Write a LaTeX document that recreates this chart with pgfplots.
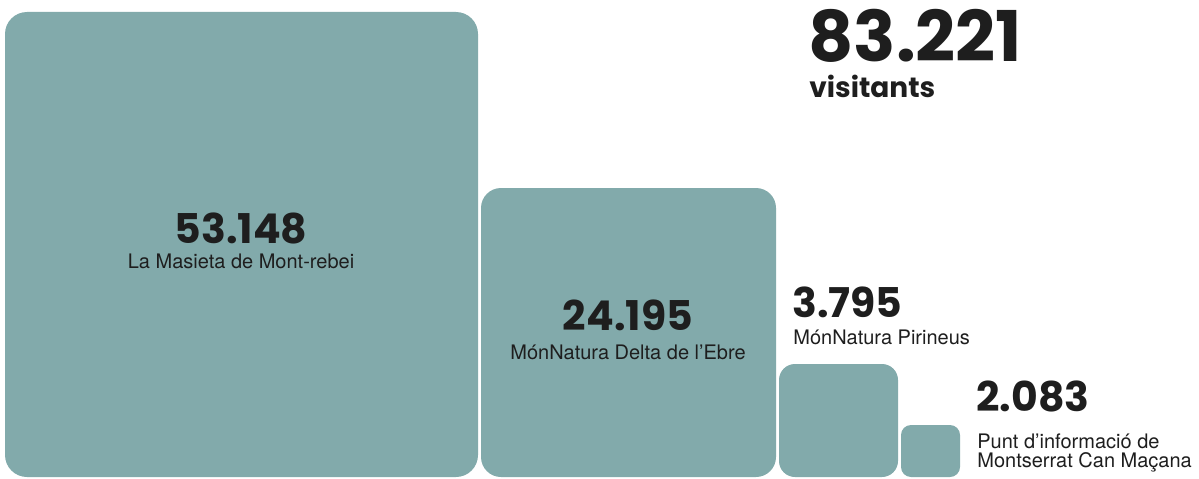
\documentclass[border=0pt]{standalone}
\usepackage{pgfplots}
\pgfplotsset{compat=1.18}
\usepackage{fontspec}
\setmainfont{TeX Gyre Heros}
\newfontfamily\numfont{Poppins}
\definecolor{sq}{RGB}{130,170,171}
\definecolor{ink}{RGB}{30,30,30}

\begin{document}
\begin{tikzpicture}
\begin{axis}[
    width=599.5pt, height=239pt,
    scale only axis,
    hide axis,
    xmin=0, xmax=1199, ymin=0, ymax=478,
    clip=false,
]
% squares, pixel units (y measured from the bottom)
\addplot[draw=none, fill=sq, rounded corners=11pt] coordinates
    {(241,1) (478,1) (478,466) (5,466) (5,1)} --cycle;
\addplot[draw=none, fill=sq, rounded corners=10pt] coordinates
    {(628,1) (776,1) (776,290) (481,290) (481,1)} --cycle;
\addplot[draw=none, fill=sq, rounded corners=8pt] coordinates
    {(838,1) (898,1) (898,114) (779,114) (779,1)} --cycle;
\addplot[draw=none, fill=sq, rounded corners=5pt] coordinates
    {(930,1) (960,1) (960,53) (901,53) (901,1)} --cycle;
\addplot[draw=none] coordinates {(0,0) (1199,478)};

% total
\node[anchor=base west, inner sep=0pt, text=ink, font=\numfont\bfseries\fontsize{35}{35}\selectfont]
    at (axis cs:808,416) {83.221};
\node[anchor=base west, inner sep=0pt, text=ink, font=\numfont\bfseries\fontsize{14}{14}\selectfont]
    at (axis cs:809,381) {visitants};

% labels
\node[anchor=base, inner sep=0pt, text=ink, font=\numfont\bfseries\fontsize{20.5}{20.5}\selectfont]
    at (axis cs:241,235) {53.148};
\node[anchor=base, inner sep=0pt, text=ink, font=\fontsize{10}{10}\selectfont]
    at (axis cs:241,210) {La Masieta de Mont-rebei};

\node[anchor=base, inner sep=0pt, text=ink, font=\numfont\bfseries\fontsize{20.5}{20.5}\selectfont]
    at (axis cs:628,148) {24.195};
\node[anchor=base, inner sep=0pt, text=ink, font=\fontsize{10}{10}\selectfont]
    at (axis cs:628,119) {MónNatura Delta de l’Ebre};

\node[anchor=base west, inner sep=0pt, text=ink, font=\numfont\bfseries\fontsize{20.5}{20.5}\selectfont]
    at (axis cs:792,161) {3.795};
\node[anchor=base west, inner sep=0pt, text=ink, font=\fontsize{10}{10}\selectfont]
    at (axis cs:793,134) {MónNatura Pirineus};

\node[anchor=base west, inner sep=0pt, text=ink, font=\numfont\bfseries\fontsize{20.5}{20.5}\selectfont]
    at (axis cs:976,67) {2.083};
\node[anchor=base west, inner sep=0pt, text=ink, font=\fontsize{10}{10}\selectfont]
    at (axis cs:977,30) {Punt d’informació de};
\node[anchor=base west, inner sep=0pt, text=ink, font=\fontsize{10}{10}\selectfont]
    at (axis cs:977,11) {Montserrat Can Maçana};
\end{axis}
\end{tikzpicture}
\end{document}
